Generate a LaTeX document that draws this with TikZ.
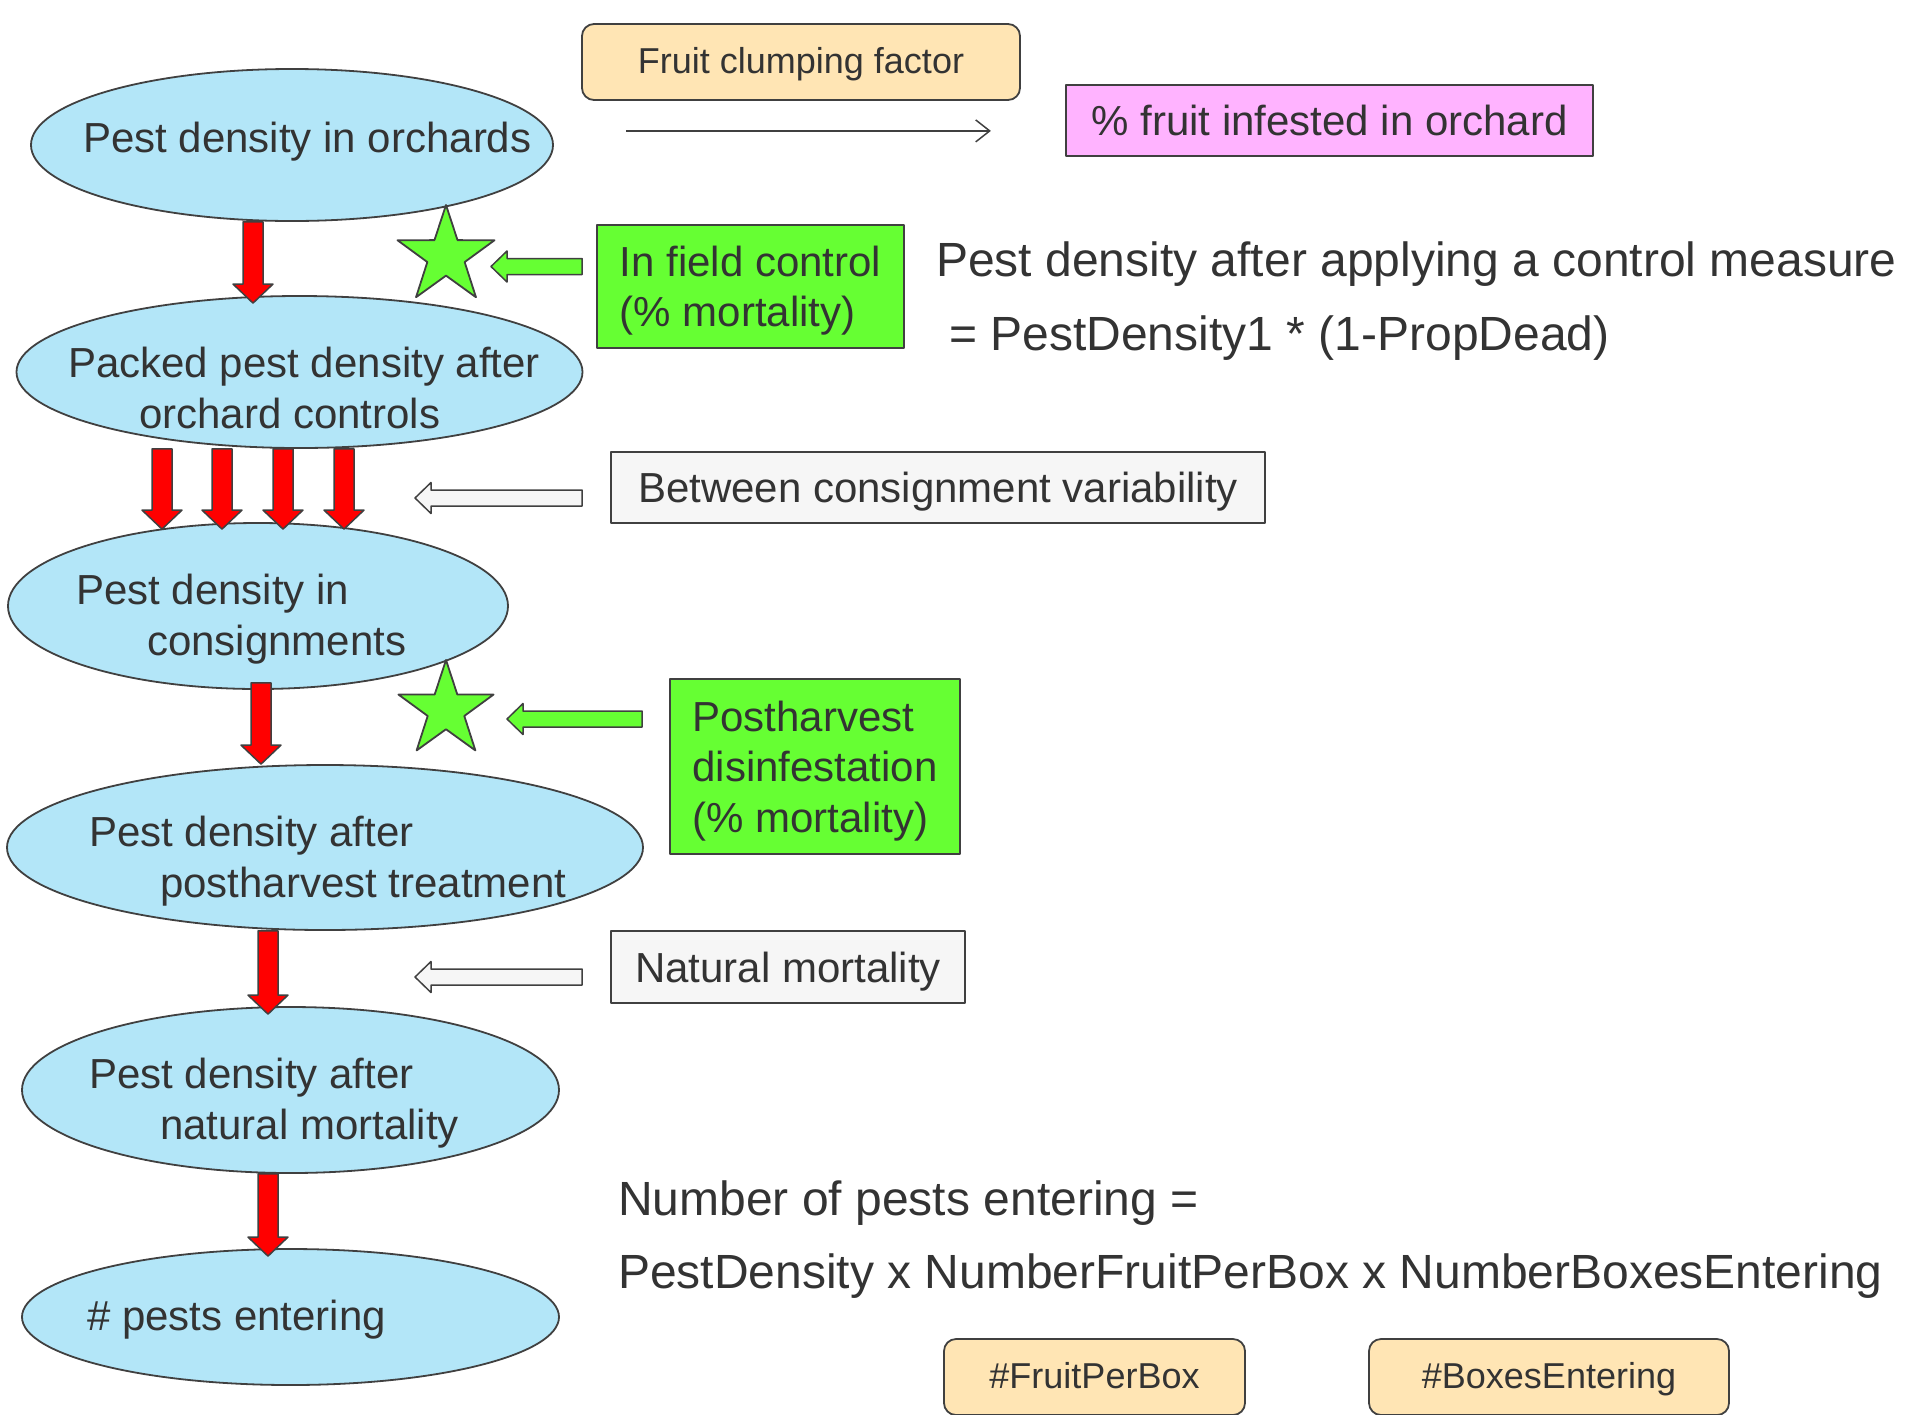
\documentclass[tikz,border=0pt]{standalone}
\usepackage{fontspec}
\setmainfont{Liberation Sans}
\usetikzlibrary{shapes.geometric,calc,arrows.meta}

\definecolor{inkgray}{RGB}{51,51,51}
\definecolor{linegray}{RGB}{64,64,64}
\definecolor{skyfill}{RGB}{179,230,248}
\definecolor{tanfill}{RGB}{255,229,180}
\definecolor{pinkfill}{RGB}{255,179,255}
\definecolor{ctrlgreen}{RGB}{102,255,51}
\definecolor{palefill}{RGB}{246,246,246}
\definecolor{flowred}{RGB}{255,0,0}

\newcommand{\ind}{\hspace*{71pt}}
% red block arrow: start -- tip (straight down)
\newcommand{\downblock}[2]{%
  \draw[redblock] let \p1=#1, \p2=#2 in
    (\x1-10pt,\y1) -- (\x1-10pt,\y2+19pt) -- (\x1-20pt,\y2+19pt) -- (\x1,\y2)
    -- (\x1+20pt,\y2+19pt) -- (\x1+10pt,\y2+19pt) -- (\x1+10pt,\y1) -- cycle;}
% block arrow pointing left: style, start -- tip
\newcommand{\leftblock}[3]{%
  \draw[#1] let \p1=#2, \p2=#3 in
    (\x1,\y1+8pt) -- (\x2+16pt,\y1+8pt) -- (\x2+16pt,\y1+15.5pt) -- (\x2,\y1)
    -- (\x2+16pt,\y1-15.5pt) -- (\x2+16pt,\y1-8pt) -- (\x1,\y1-8pt) -- cycle;}

\begin{document}
\begin{tikzpicture}[x=1pt, y=-1pt, line join=round,
  every node/.style={text=inkgray},
  pestell/.style={ellipse, draw=linegray, line width=1.8pt, fill=skyfill, inner sep=0pt},
  pesttxt/.style={anchor=base west, align=left, inner sep=0pt, font=\fontsize{42}{50.5}\selectfont},
  factor/.style={draw=linegray, line width=1.8pt, fill=tanfill, rounded corners=12pt,
    inner sep=0pt, text height=22pt, text depth=0pt, font=\fontsize{36}{43}\selectfont},
  ctrlbox/.style={draw=linegray, line width=1.8pt, fill=ctrlgreen, align=left,
    inner sep=0pt, text depth=0pt, font=\fontsize{42}{50.5}\selectfont},
  palebox/.style={draw=linegray, line width=1.8pt, fill=palefill, inner sep=0pt,
    text height=30pt, text depth=0pt, font=\fontsize{42}{50.5}\selectfont},
  ctrlstar/.style={star, star points=5, star point ratio=2.6, inner sep=0pt,
    draw=linegray, line width=1.8pt, fill=ctrlgreen},
  formula/.style={anchor=base west, inner sep=0pt, font=\fontsize{48}{58}\selectfont},
  redblock/.style={draw=linegray, line width=1.5pt, fill=flowred},
  greenblock/.style={draw=linegray, line width=1.5pt, fill=ctrlgreen},
  paleblock/.style={draw=linegray, line width=1.5pt, fill=palefill}]
  \useasboundingbox (0,0) rectangle (1905,1414);
  \clip (0,0) rectangle (1905,1414);

  % Pest density chain
  \node[pestell, minimum width=522pt, minimum height=152pt] (orchard) at (292,145) {};
  \node[pestell, minimum width=566pt, minimum height=152pt] (packed) at (299.5,372) {};
  \node[pestell, minimum width=500pt, minimum height=166pt] (consign) at (258,606) {};
  \node[pestell, minimum width=636pt, minimum height=165pt] (postharv) at (325,847.5) {};
  \node[pestell, minimum width=537pt, minimum height=166pt] (natural) at (290.5,1090) {};
  \node[pestell, minimum width=537pt, minimum height=136pt] (entering) at (290.5,1317) {};

  % (base = last line)
  \node[pesttxt] (orchardtxt) at (83,152) {Pest density in orchards};
  \node[pesttxt] (packedtxt) at (68,428) {Packed pest density after\\\ind orchard controls};
  \node[pesttxt] (consigntxt) at (76,655) {Pest density in\\\ind consignments};
  \node[pesttxt] (postharvtxt) at (89,897) {Pest density after\\\ind postharvest treatment};
  \node[pesttxt] (naturaltxt) at (89,1139) {Pest density after\\\ind natural mortality};
  \node[pesttxt] (enteringtxt) at (87,1330) {\# pests entering};

  % Flow arrows
  \downblock{($(orchard.south)+(-39,0)$)}{($(packed.north)+(0,8)$)}
  \foreach \cx in {162,222,283,344}{
    \downblock{(\cx,0 |- packed.south)}{($(\cx,0 |- consign.north)+(0,7)$)}
  }
  \downblock{($(consign.south)+(3,-7)$)}{(postharv.north)}
  \downblock{($(postharv.south)+(-57,0)$)}{($(natural.north)+(0,8)$)}
  \downblock{($(natural.south)+(-22.5,0)$)}{($(entering.north)+(0,8)$)}

  % Inputs
  \node[factor, minimum width=438pt, minimum height=76pt] (clump) at (801,62) {Fruit clumping factor};
  \node[palebox, fill=pinkfill, minimum width=527pt, minimum height=71pt] (infest) at (1329.5,120.5) {\% fruit infested in orchard};
  \node[ctrlbox, text height=80.5pt, minimum width=307pt, minimum height=123pt] (infield) at (750.5,286.5) {In field control\\(\% mortality)};
  \node[palebox, minimum width=654pt, minimum height=71pt] (between) at (938,487.5) {Between consignment variability};
  \node[ctrlbox, text height=131pt, minimum width=290pt, minimum height=175pt] (disinf) at (815,766.5) {Postharvest\\disinfestation\\(\% mortality)};
  \node[palebox, minimum width=354pt, minimum height=72pt] (natmort) at (788,967) {Natural mortality};
  \node[factor, minimum width=301pt, minimum height=76pt] (perbox) at (1094.5,1377) {\#FruitPerBox};
  \node[factor, minimum width=360pt, minimum height=76pt] (boxesin) at (1549,1377) {\#BoxesEntering};

  \node[ctrlstar, minimum size=102pt] (fieldstar) at (446,256) {};
  \node[ctrlstar, minimum size=100pt] (harveststar) at (446,710) {};

  \coordinate (varin) at (415,498);
  \coordinate (mortin) at (415,977);
  \leftblock{greenblock}{($(infield.west)+(-14,-20)$)}{($(fieldstar.center)+(45,0)$)}
  \leftblock{greenblock}{($(disinf.west)+(-27,-47.5)$)}{($(harveststar.center)+(61,0)$)}
  \leftblock{paleblock}{($(between.west)+(-28,10.5)$)}{(varin)}
  \leftblock{paleblock}{($(natmort.west)+(-28,10)$)}{(mortin)}

  \coordinate (clumpfrom) at ($(clump.south west)+(45,30)$);
  \coordinate (clumpto) at ($(clump.south east)+(-30,30)$);
  \draw[linegray, line width=1.5pt, -{Straight Barb[length=14pt,width=22pt]}] (clumpfrom) -- (clumpto);

  % Formulas
  \node[formula] (ctrlrule) at (936,276) {Pest density after applying a control measure};
  \node[formula] (ctrlcalc) at (949,350) {= PestDensity1 * (1-PropDead)};
  \node[formula] (countrule) at (618,1215) {Number of pests entering =};
  \node[formula] (countcalc) at (618,1288) {PestDensity x NumberFruitPerBox x NumberBoxesEntering};
\end{tikzpicture}
\end{document}
